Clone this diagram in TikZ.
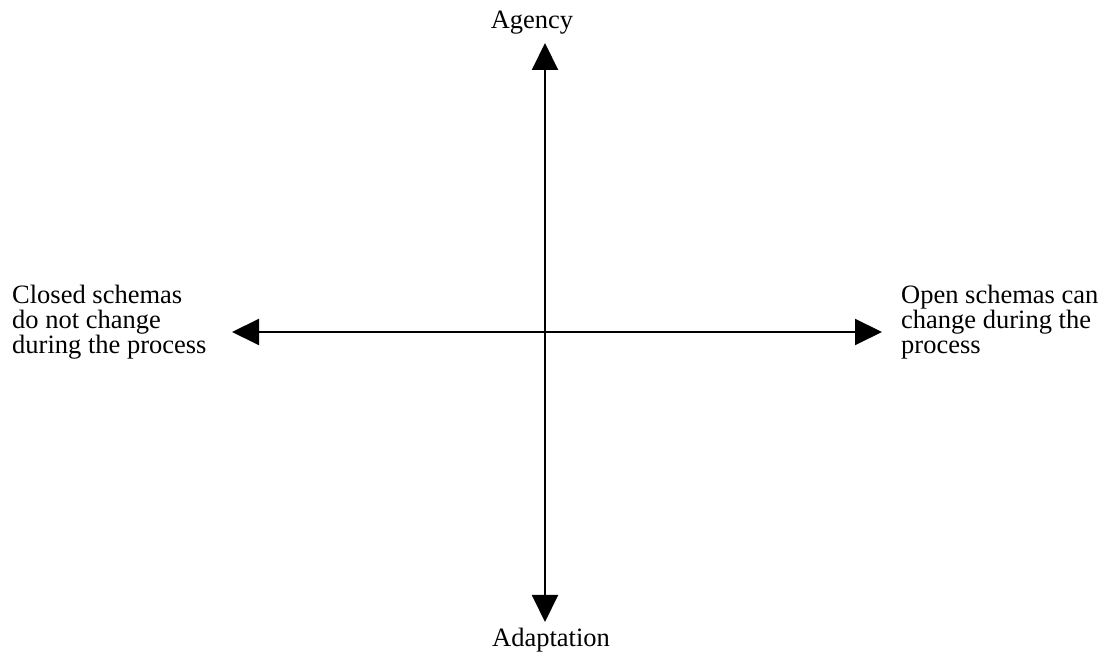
\documentclass[tikz,border=0pt]{standalone}
\usepackage{fontspec}
\setmainfont{Liberation Serif}
\usepackage{tikz}
\usetikzlibrary{arrows.meta, positioning}
\tikzset{
  axislbl/.style={
    inner sep=0pt, align=left,
    font=\fontsize{26.5}{24.8}\selectfont,
  },
  axis/.style={{Triangle[length=27pt, width=26pt]}-{Triangle[length=27pt, width=26pt]}, line width=2pt},
}

\begin{document}
\begin{tikzpicture}[x=1pt, y=1pt]
  \useasboundingbox (0,0) rectangle (1108,660);

  % Tips of the axes
  \coordinate (mid)   at (545,328);
  \coordinate (top)   at (545,617);
  \coordinate (bot)   at (545,38);
  \coordinate (lft)   at (232,328);
  \coordinate (rgt)   at (882,328);

  % Labels
  \node[axislbl, anchor=base] (agency) at (532,631) {Agency};
  \node[axislbl, anchor=base] (adapt)  at (551,13)  {Adaptation};
  \node[axislbl, anchor=west] (closed) at (12,338)
    {Closed schemas\\do not change\\during the process};
  \node[axislbl, anchor=west] (open)   at (901,338)
    {Open schemas can\\change during the\\process};

  % Axes
  \draw[axis] (bot) -- (top);
  \draw[axis] (lft) -- (rgt);

\end{tikzpicture}
\end{document}
